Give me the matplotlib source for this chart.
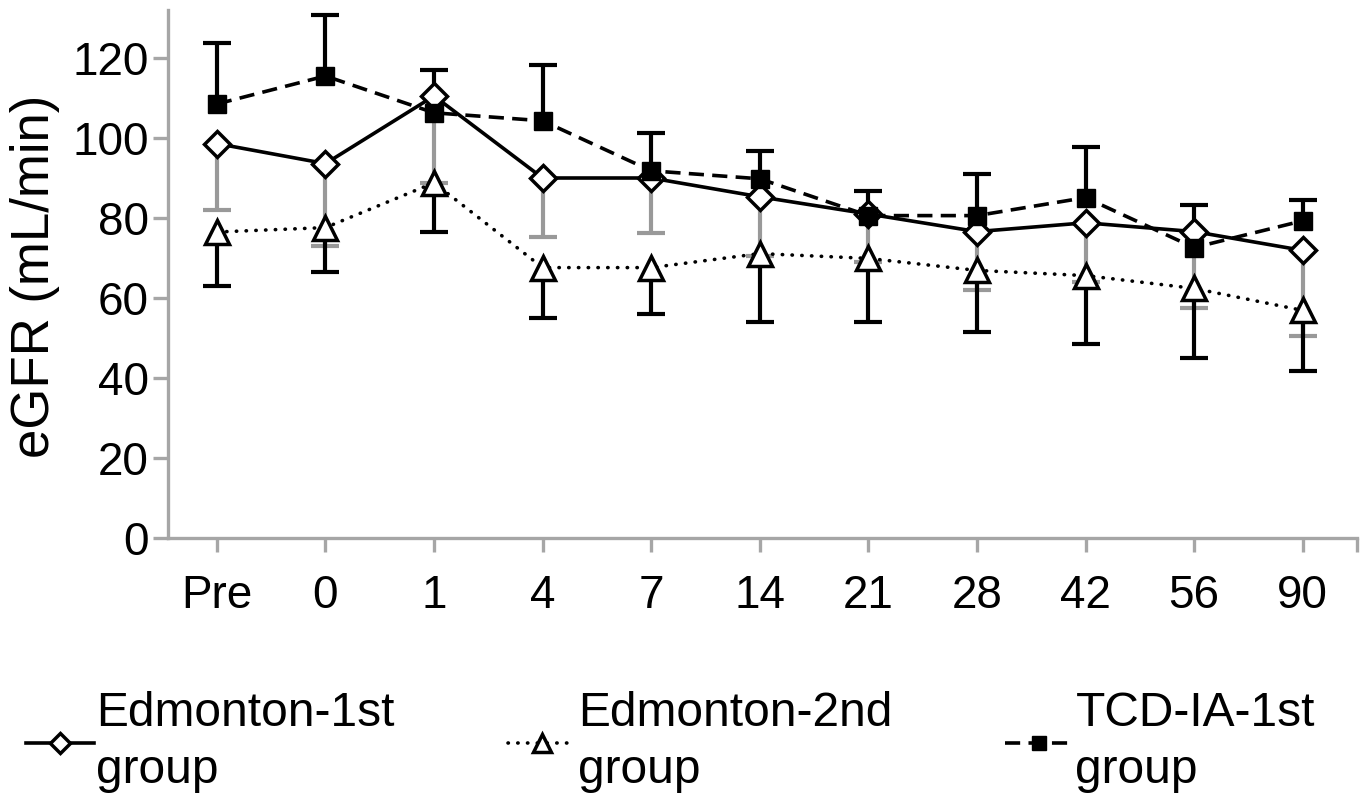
import matplotlib.pyplot as plt
import numpy as np

plt.rcParams['font.family'] = ['Liberation Sans', 'DejaVu Sans']

days = ['Pre', '0', '1', '4', '7', '14', '21', '28', '42', '56', '90']

# Edmonton-1st group (mean, lower error end)
edm1 = [98.6, 93.6, 110.5, 90.0, 90.0, 85.3, 81.0, 76.6, 78.8, 76.6, 71.9]
edm1_low = [82.0, 73.0, 88.8, 75.3, 76.3, 70.6, 68.9, 61.9, 64.1, 57.4, 50.6]

# Edmonton-2nd group (mean, lower error end)
edm2 = [76.5, 77.6, 88.8, 67.6, 67.6, 71.1, 69.9, 66.9, 65.6, 62.4, 56.9]
edm2_low = [62.9, 66.4, 76.6, 55.1, 56.1, 53.9, 53.9, 51.6, 48.4, 44.9, 41.7]

# TCD-IA-1st group (mean, upper error end)
tcd = [108.5, 115.5, 106.3, 104.3, 91.8, 89.8, 80.6, 80.6, 85.1, 72.6, 79.3]
tcd_high = [123.8, 130.7, 117.0, 118.3, 101.3, 96.8, 86.8, 91.0, 97.8, 83.3, 84.6]

x = np.arange(len(days))
axis_grey = '#a6a6a6'

fig = plt.figure(figsize=(13.65, 7.93), dpi=100)
ax = fig.add_axes([168/1365, 1 - 538/793, (1357 - 168)/1365, (538 - 10)/793])

lw = 2.6
elw = 3.0


def one_sided_bar(means, ends, color):
    # vertical stem from mean to the end, cap only at the far end
    ax.vlines(x, means, ends, color=color, lw=elw, zorder=2)
    ax.plot(x, ends, linestyle='none', marker='_', ms=20, mew=elw, color=color, zorder=2)


# error bars first, so markers sit on top
one_sided_bar(edm1, edm1_low, '#999999')
one_sided_bar(edm2, edm2_low, 'black')
one_sided_bar(tcd, tcd_high, 'black')

ax.plot(x, edm1, '-', color='black', lw=lw, marker='D', ms=13, mfc='white',
        mec='black', mew=2.5, zorder=4, label='Edmonton-1st\ngroup')
ax.plot(x, edm2, color='black', lw=lw, linestyle=(0, (0.1, 2.6)), dash_capstyle='round',
        marker='^', ms=17, mfc='white', mec='black', mew=2.5, zorder=3,
        label='Edmonton-2nd\ngroup')
ax.plot(x, tcd, color='black', lw=lw, linestyle=(0, (4.2, 2.3)), marker='s', ms=13,
        mfc='black', mec='black', mew=1, zorder=5, label='TCD-IA-1st\ngroup')

ax.set_xlim(-0.45, 10.5)
ax.set_ylim(0, 132)
ax.set_yticks(range(0, 121, 20))
ax.set_xticks(x)
ax.set_xticklabels(days)
ax.set_xticks([10.5], minor=True)

for s in ['top', 'right']:
    ax.spines[s].set_visible(False)
for s in ['left', 'bottom']:
    ax.spines[s].set_color(axis_grey)
    ax.spines[s].set_linewidth(2.4)

ax.tick_params(axis='y', which='major', length=11, width=2.4, color=axis_grey,
               labelsize=33, pad=3)
ax.tick_params(axis='x', which='both', length=10, width=2.4, color=axis_grey,
               labelsize=33, pad=16)

fig.text(35/1365, 1 - 276/793, 'eGFR (mL/min)', rotation=90, ha='center', va='center',
         fontsize=38)

leg = fig.legend(loc='lower left', bbox_to_anchor=(26/1365, 0.0), ncol=3, frameon=False,
                 fontsize=34.5, borderpad=0, borderaxespad=0, handlelength=1.42,
                 handletextpad=0.05, columnspacing=2.35, markerscale=0.75)
for t in leg.get_texts():
    t.set_linespacing(1.35)

fig.savefig('out.png', dpi=100)
